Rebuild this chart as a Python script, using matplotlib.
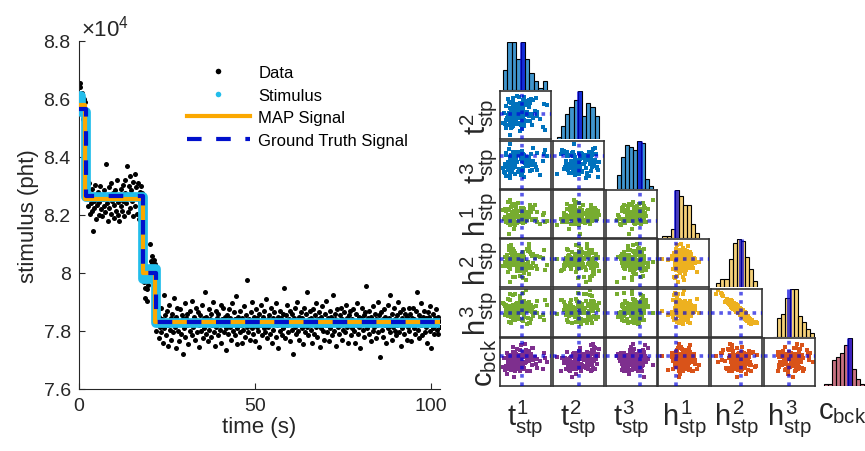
import numpy as np
import matplotlib
matplotlib.use("Agg")
import matplotlib.pyplot as plt
from matplotlib.lines import Line2D
from matplotlib.colors import to_rgba

plt.rcParams['font.family'] = 'Liberation Sans'
plt.rcParams['mathtext.fontset'] = 'custom'
plt.rcParams['mathtext.rm'] = 'Liberation Sans'
plt.rcParams['mathtext.it'] = 'Liberation Sans'
plt.rcParams['mathtext.bf'] = 'Liberation Sans:bold'

# ─────────────────────────────────────────────
# LEFT PANEL DATA  (photon counts, in units of 10 pht, one every 0.2 s)
# ─────────────────────────────────────────────
DT = 0.2

data_seg1 = [8650, 8640, 8655, 8580, 8620, 8530, 8570, 8600, 8545, 8590]

data_seg2 = [
    8340, 8300, 8355, 8230, 8310, 8205, 8270, 8240, 8290, 8215,
    8145, 8250, 8225, 8305, 8185, 8260, 8235, 8280, 8200, 8245,
    8300, 8220, 8270, 8195, 8255, 8230, 8285, 8210, 8265, 8375,
    8240, 8180, 8295, 8225, 8260, 8310, 8205, 8250, 8275, 8190,
    8235, 8285, 8215, 8260, 8320, 8200, 8245, 8180, 8270, 8230,
    8290, 8215, 8305, 8250, 8195, 8275, 8320, 8240, 8370, 8265,
    8210, 8300, 8335, 8225, 8285, 8250, 8315, 8195, 8270, 8340,
    8230, 8295, 8205, 8260, 8310, 8185, 8280, 8245, 8300, 8215,
    8275,
]

data_seg3 = [8010, 7970, 7950, 7915, 7990, 7905, 7945, 7960, 7985,
             8020, 8100, 8040, 8060, 8035, 8000, 8045, 8015, 8030]

data_seg4 = [
    7865, 7800, 7905, 7830, 7775, 7850, 7815, 7880, 7795, 7840, 7760, 7925, 7810, 7855, 7785, 7835, 7870, 7750, 7820, 7890,
    7805, 7845, 7770, 7860, 7830, 7795, 7915, 7815, 7740, 7850, 7880, 7800, 7835, 7765, 7875, 7825, 7790, 7855, 7720, 7840,
    7810, 7895, 7780, 7845, 7820, 7860, 7755, 7835, 7800, 7870, 7825, 7785, 7905, 7815, 7850, 7770, 7840, 7880, 7795, 7830,
    7865, 7745, 7820, 7855, 7800, 7890, 7830, 7775, 7845, 7810, 7935, 7790, 7850, 7825, 7765, 7875, 7805, 7840, 7780, 7860,
    7820, 7900, 7795, 7835, 7750, 7870, 7815, 7845, 7785, 7860, 7830, 7805, 7890, 7760, 7840, 7825, 7880, 7795, 7850, 7810,
    7735, 7855, 7830, 7790, 7875, 7815, 7845, 7770, 7895, 7825, 7800, 7865, 7785, 7840, 7920, 7810, 7755, 7850, 7830, 7795,
    7870, 7820, 7760, 7845, 7805, 7885, 7835, 7780, 7855, 7815, 7975, 7795, 7840, 7825, 7770, 7865, 7810, 7900, 7790, 7850,
    7830, 7765, 7875, 7815, 7845, 7800, 7860, 7745, 7835, 7890, 7820, 7785, 7850, 7810, 7870, 7795, 7830, 7910, 7775, 7840,
    7815, 7855, 7790, 7880, 7825, 7760, 7845, 7805, 7865, 7835, 7780, 7895, 7820, 7850, 7740, 7830, 7870, 7800, 7845, 7785,
    7860, 7810, 7950, 7835, 7775, 7855, 7820, 7890, 7795, 7840, 7765, 7870, 7825, 7805, 7860, 7720, 7845, 7815, 7880, 7790,
    7835, 7900, 7800, 7850, 7770, 7825, 7865, 7810, 7845, 7755, 7880, 7830, 7795, 7860, 7815, 7935, 7785, 7840, 7820, 7870,
    7805, 7845, 7760, 7875, 7830, 7790, 7855, 7815, 7895, 7780, 7840, 7825, 7865, 7745, 7850, 7810, 7885, 7800, 7835, 7770,
    7860, 7820, 7905, 7795, 7845, 7830, 7765, 7870, 7810, 7850, 7785, 7925, 7825, 7800, 7860, 7840, 7750, 7875, 7815, 7835,
    7790, 7855, 7820, 7880, 7770, 7840, 7805, 7865, 7830, 7795, 7890, 7815, 7845, 7760, 7855, 7825, 7870, 7785, 7840, 7810,
    7875, 7800, 7835, 7760, 7860, 7820, 7895, 7790, 7850, 7815, 7740, 7845, 7830, 7880, 7805, 7855, 7780, 7865, 7825, 7955,
    7810, 7845, 7790, 7870, 7825, 7765, 7850, 7835, 7800, 7885, 7815, 7860, 7775, 7840, 7820, 7900, 7795, 7855, 7710, 7830,
    7865, 7805, 7840, 7780, 7875, 7820, 7850, 7760, 7835, 7890, 7810, 7845, 7795, 7925, 7825, 7770, 7860, 7815, 7880, 7800,
    7840, 7785, 7855, 7820, 7900, 7795, 7830, 7865, 7750, 7845, 7810, 7875, 7825, 7790, 7860, 7835, 7770, 7850, 7815, 7880,
    7800, 7860, 7825, 7765, 7845, 7880, 7810, 7840, 7790, 7870, 7830, 7935, 7805, 7855, 7775, 7840, 7820, 7895, 7785, 7850,
    7830, 7870, 7795, 7845, 7815, 7760, 7865, 7825, 7850, 7800, 7885, 7740, 7835, 7810, 7860, 7790, 7845, 7820, 7875, 7805,
    7850, 7790, 7835, 7815,
]

# step signals: switch times (s) and levels (pht)
stim_times = [0, 0.6, 1.9, 18.3, 19.8, 21.9, 102.4]
stim_levels = [86100, 85550, 82620, 79780, 80150, 78290]
map_times = [0, 1.6, 18.1, 21.6, 102.4]
map_levels = [85800, 82550, 80000, 78300]
gt_times = [0, 1.9, 18.2, 21.8, 102.4]
gt_levels = [85650, 82650, 80000, 78300]

# ─────────────────────────────────────────────
# CORNER PLOT DATA  (posterior samples, % of each axis range)
# ─────────────────────────────────────────────
t1 = [27, 44, 12, 19, 61, 35, 29, 47, 22, 53, 16, 42, 9, 30, 70, 25, 48, 38, 21, 55,
      45, 20, 26, 13, 58, 41, 33, 17, 28, 50, 24, 46, 36, 18, 88, 43, 31, 23, 39, 56,
      6, 29, 47, 15, 34, 63, 42, 26, 21, 52, 44, 11, 22, 30, 72, 16, 48, 37, 25, 54,
      19, 41, 27, 60, 14, 32, 45, 23, 51, 28, 43, 17, 85, 29, 49, 24, 40, 46, 22, 57,
      10, 35, 20, 47, 26, 65, 38, 42, 18, 53, 31, 15, 44, 68, 22, 25, 59, 8, 36, 50,
      28, 46, 12, 78, 33, 41, 21, 62, 24, 56, 92, 38, 20, 49, 73, 30, 57, 64, 45, 86]
t2 = [53, 21, 70, 36, 84, 45, 61, 28, 77, 50, 44, 66, 31, 55, 87, 39, 79, 48, 60, 52,
      57, 8, 69, 42, 75, 29, 63, 51, 38, 72, 47, 82, 35, 54, 19, 68, 43, 26, 76, 49,
      34, 58, 89, 46, 71, 30, 53, 80, 40, 56, 73, 41, 23, 64, 48, 85, 37, 50, 27, 78,
      55, 67, 32, 83, 45, 74, 49, 62, 39, 70, 42, 78, 25, 51, 71, 36, 17, 57, 46, 81,
      33, 52, 66, 40, 86, 44, 58, 75, 29, 54, 69, 50, 22, 59, 47, 73, 38, 55, 31, 80,
      48, 65, 24, 43, 90, 35, 76, 53, 28, 67, 72, 88, 41, 79, 56, 34, 68, 82, 63, 74]
t3 = [64, 41, 27, 58, 72, 35, 52, 67, 44, 60, 49, 70, 33, 63, 45, 76, 56, 40, 66, 53,
      73, 30, 62, 48, 37, 68, 55, 43, 75, 51, 36, 59, 71, 46, 80, 32, 65, 54, 74, 57,
      42, 67, 25, 53, 77, 39, 61, 50, 34, 63, 58, 71, 44, 64, 38, 55, 69, 41, 76, 47,
      66, 29, 52, 73, 45, 62, 36, 70, 49, 60, 40, 83, 57, 31, 64, 46, 72, 37, 54, 59,
      51, 74, 23, 67, 43, 58, 35, 77, 48, 65, 63, 39, 79, 52, 45, 69, 56, 34, 71, 47,
      60, 42, 74, 28, 55, 33, 70, 50, 46, 66, 68, 38, 93, 54, 75, 44, 62, 84, 57, 72]
h1 = [36, 52, 44, 29, 58, 33, 49, 61, 41, 38, 47, 34, 60, 53, 39, 66, 42, 56, 35, 50,
      43, 27, 55, 37, 68, 46, 32, 59, 40, 51, 38, 62, 45, 8, 34, 57, 70, 41, 36, 54,
      58, 33, 47, 75, 52, 39, 63, 44, 65, 49, 35, 56, 42, 31, 53, 37, 60, 45, 34, 48,
      46, 39, 18, 55, 43, 67, 32, 50, 41, 57, 37, 61, 47, 26, 33, 54, 40, 59, 36, 52,
      44, 72, 38, 56, 49, 64, 35, 62, 42, 53, 58, 32, 46, 69, 36, 30, 61, 39, 43, 55,
      41, 51, 34, 28, 47, 63, 45, 38, 71, 49, 35, 57, 79, 40, 33, 66, 44, 60, 37, 52]
h2 = [55, 46, 63, 38, 70, 52, 22, 60, 78, 44, 61, 36, 53, 67, 45, 57, 29, 64, 48, 75,
      48, 59, 72, 54, 40, 62, 43, 85, 51, 14, 65, 50, 42, 58, 35, 69, 56, 47, 24, 39,
      44, 57, 62, 31, 50, 66, 39, 60, 49, 79, 58, 46, 54, 71, 37, 49, 61, 67, 80, 52,
      41, 63, 56, 45, 68, 51, 19, 59, 47, 76, 53, 42, 60, 65, 48, 55, 34, 73, 88, 27,
      62, 50, 10, 58, 46, 70, 54, 40, 77, 43, 49, 56, 38, 61, 52, 21, 74, 45, 68, 35,
      57, 67, 44, 63, 33, 50, 72, 40, 59, 81, 46, 60, 53, 37, 66, 58, 90, 51, 71, 78]
h3 = [58, 56, 48, 76, 37, 48, 88, 49, 29, 69, 43, 74, 63, 36, 64, 56, 75, 51, 51, 38,
      67, 46, 43, 53, 60, 56, 59, 30, 57, 96, 42, 63, 57, 53, 76, 35, 60, 59, 84, 61,
      69, 50, 41, 78, 63, 52, 64, 42, 61, 27, 54, 55, 60, 35, 75, 59, 55, 37, 35, 53,
      61, 50, 45, 65, 48, 54, 91, 58, 57, 36, 60, 63, 44, 52, 53, 57, 76, 33, 30, 71,
      45, 64, 89, 44, 66, 43, 50, 74, 31, 69, 67, 47, 72, 52, 51, 86, 29, 68, 43, 68,
      48, 48, 65, 40, 70, 65, 41, 59, 56, 28, 65, 56, 48, 65, 48, 48, 28, 62, 33, 35]
c_bck = [62, 48, 57, 35, 66, 41, 54, 70, 44, 51, 50, 65, 33, 59, 46, 67, 37, 56, 42, 73,
         43, 61, 53, 68, 31, 55, 64, 40, 18, 49, 65, 36, 49, 62, 57, 45, 66, 52, 75, 58,
         39, 58, 67, 34, 62, 44, 55, 81, 50, 30, 60, 42, 51, 66, 37, 56, 48, 63, 71, 67,
         46, 64, 32, 57, 25, 51, 68, 41, 60, 44, 63, 55, 36, 69, 47, 60, 30, 66, 41, 52,
         58, 45, 62, 34, 65, 53, 40, 84, 49, 72, 35, 64, 50, 59, 43, 68, 61, 57, 46, 74,
         67, 38, 58, 52, 76, 61, 33, 79, 54, 70, 50, 62, 44, 88, 56, 31, 65, 78, 59, 69]

param_labels = [r'$t^{1}_{stp}$', r'$t^{2}_{stp}$', r'$t^{3}_{stp}$',
                r'$h^{1}_{stp}$', r'$h^{2}_{stp}$', r'$h^{3}_{stp}$', r'$c_{bck}$']
samples = [t1, t2, t3, h1, h2, h3, c_bck]
truth = [43, 52, 67, 35, 59, 49, 63]
hist_bins = [10, 10, 9, 9, 10, 10, 10]
hist_range = [(6, 92), (8, 90), (23, 93), (8, 79), (10, 90), (18, 98), (14, 92)]

# ─────────────────────────────────────────────
# STYLE
# ─────────────────────────────────────────────
AX_C = '#262626'
STIM_C = '#22BDEB'
MAP_C = '#FBA800'
GT_C = '#0010CC'
TRUTH_C = '#0000DD'

BLUE, GREEN, PURPLE = '#0072BD', '#77AC30', '#7E2F8E'
YELLOW, ORANGE, WINE = '#EDB120', '#D95319', '#A2142F'
hist_colors = [to_rgba(BLUE, 0.75)] * 3 + [to_rgba(YELLOW, 0.6)] * 3 + [to_rgba(WINE, 0.6)]


def pair_color(row, col):
    if row <= 2:
        return BLUE
    if row <= 5:
        return GREEN if col <= 2 else YELLOW
    return PURPLE if col <= 2 else ORANGE


W, H = 865, 452
fig = plt.figure(figsize=(W / 100, H / 100), dpi=100)

# ─────────────────────────────────────────────
# LEFT PANEL
# ─────────────────────────────────────────────
counts = data_seg1 + data_seg2 + data_seg3 + data_seg4
time = np.arange(len(counts)) * DT
signal = np.array(counts) * 10

ax = fig.add_axes([79 / W, 1 - 390 / H, 361 / W, 348 / H])
ax.plot(time, signal, ls='none', marker='o', ms=3.6, mec='none', color='black', zorder=2)
ax.step(stim_times, stim_levels + stim_levels[-1:], where='post',
        color=STIM_C, lw=7, zorder=3)
ax.step(map_times, map_levels + map_levels[-1:], where='post',
        color=MAP_C, lw=3, zorder=4)
ax.step(gt_times, gt_levels + gt_levels[-1:], where='post',
        color=GT_C, lw=3, dashes=(3.5, 3.5), zorder=5)

ax.set_xlim(0, 102.5)
ax.set_ylim(76000, 88000)
ax.set_xticks([0, 50, 100])
ax.set_yticks(np.arange(76000, 88001, 2000))
ax.set_yticklabels(['7.6', '7.8', '8', '8.2', '8.4', '8.6', '8.8'])
ax.tick_params(direction='in', length=4, width=0.8, colors=AX_C, labelsize=14, pad=6)
for side in ['top', 'right']:
    ax.spines[side].set_visible(False)
for side in ['left', 'bottom']:
    ax.spines[side].set_color(AX_C)
    ax.spines[side].set_linewidth(0.8)
ax.set_xlabel('time (s)', fontsize=16, color=AX_C, labelpad=1)
ax.set_ylabel('stimulus (pht)', fontsize=16, color=AX_C, labelpad=3)
ax.text(0.005, 1.0, '×10$^{4}$', transform=ax.transAxes, fontsize=16,
        color=AX_C, ha='left', va='bottom')

legend_handles = [
    Line2D([], [], ls='none', marker='o', ms=4, mec='none', color='black'),
    Line2D([], [], ls='none', marker='o', ms=4, mec='none', color=STIM_C),
    Line2D([], [], color=MAP_C, lw=3),
    Line2D([], [], color=GT_C, lw=3, dashes=(3.5, 3.5)),
]
ax.legend(legend_handles, ['Data', 'Stimulus', 'MAP Signal', 'Ground Truth Signal'],
          loc='upper left', bbox_to_anchor=(0.28, 0.95), frameon=False, fontsize=12,
          handlelength=3.8, handletextpad=0.5, labelspacing=0.45, borderaxespad=0)

# ─────────────────────────────────────────────
# CORNER PLOT
# ─────────────────────────────────────────────
n_par = len(samples)
for i in range(n_par):
    for j in range(i + 1):
        x0 = 500 + 52.8 * j
        top = 43 + 49.3 * i
        cax = fig.add_axes([x0 / W, 1 - (top + 48) / H, 51 / W, 48 / H])
        cax.set_xlim(0, 100)
        cax.set_xticks([])
        cax.set_yticks([])
        if i == j:
            n, _, _ = cax.hist(samples[i], bins=hist_bins[i], range=hist_range[i],
                               facecolor=hist_colors[i], edgecolor='black', linewidth=0.8)
            cax.set_ylim(0, n.max())
            cax.plot([truth[i], truth[i]], [0, n.max()], color=TRUTH_C, alpha=0.7,
                     lw=3.5, solid_capstyle='butt')
            for s in cax.spines.values():
                s.set_visible(False)
        else:
            cax.scatter(samples[j], samples[i], s=6, marker='s', linewidths=0,
                        color=pair_color(i, j), zorder=2)
            cax.axvline(truth[j], color=TRUTH_C, alpha=0.65, lw=2.6, ls=(0, (1, 1.3)), zorder=3)
            cax.axhline(truth[i], color=TRUTH_C, alpha=0.65, lw=2.6, ls=(0, (1, 1.3)), zorder=3)
            cax.set_ylim(0, 100)
            for s in cax.spines.values():
                s.set_color('#333333')
                s.set_linewidth(1.2)
        if j == 0 and i > 0:
            cax.set_ylabel(param_labels[i], fontsize=21, color=AX_C, labelpad=1)
        if i == n_par - 1:
            cax.set_xlabel(param_labels[j], fontsize=21, color=AX_C, labelpad=8)

fig.savefig('out.png', dpi=100)
